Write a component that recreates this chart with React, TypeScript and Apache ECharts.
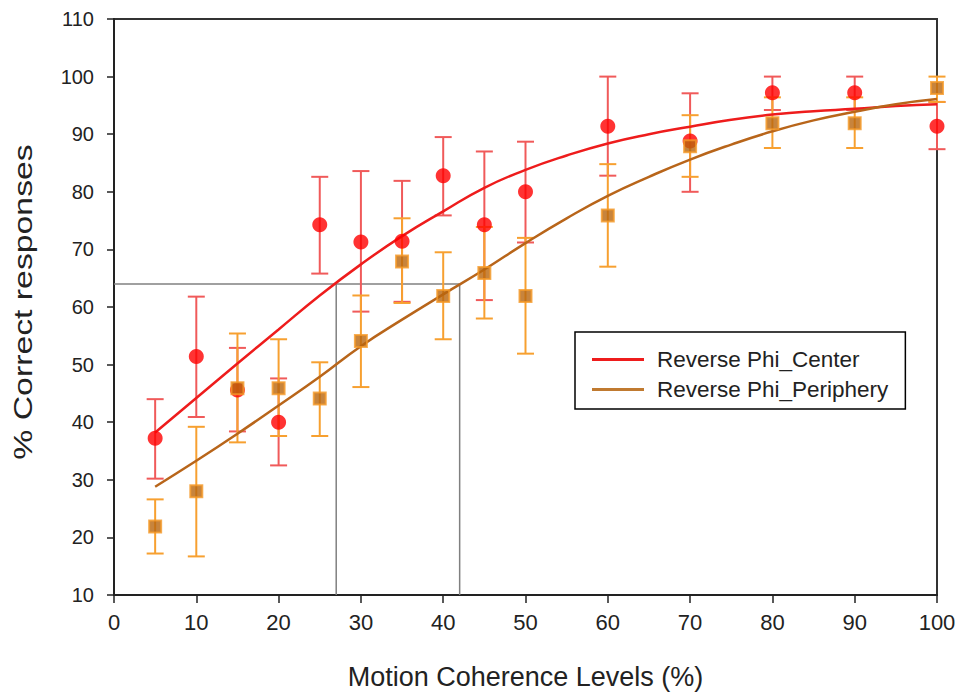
import React, { useEffect, useRef } from "react";
import * as echarts from "echarts";

// Measured points
const levels = [5, 10, 15, 20, 25, 30, 35, 40, 45, 50, 60, 70, 80, 90, 100];
const centerMean = [37.2, 51.4, 45.6, 40.0, 74.3, 71.3, 71.4, 82.8, 74.3, 80.0, 91.4, 88.8, 97.2, 97.2, 91.4];
const centerUpper = [44.0, 61.8, 52.9, 47.6, 82.6, 83.6, 81.9, 89.5, 87.0, 88.7, 100, 97.1, 100, 100, 95.6];
const centerLower = [30.2, 40.9, 38.4, 32.5, 65.8, 59.2, 60.9, 75.9, 61.2, 71.2, 82.8, 80.0, 94.2, 94.2, 87.4];
const periphMean = [21.9, 28.0, 45.9, 45.9, 44.1, 54.1, 67.9, 61.9, 65.9, 61.9, 75.9, 87.9, 91.9, 91.9, 98.0];
const periphUpper = [26.6, 39.2, 55.4, 54.4, 50.4, 62.0, 75.4, 69.5, 73.9, 72.0, 84.8, 93.3, 96.4, 96.4, 100];
const periphLower = [17.2, 16.7, 36.5, 37.6, 37.6, 46.1, 60.7, 54.4, 58.0, 51.9, 67.0, 82.6, 87.6, 87.6, 95.6];

// Fitted curves
const fitX = [5, 10, 15, 20, 25, 30, 35, 40, 45, 50, 55, 60, 65, 70, 75, 80, 85, 90, 95, 100];
const centerFit = [38.2, 44.2, 50.2, 56.1, 62.0, 67.4, 72.3, 76.6, 80.7, 83.8, 86.3, 88.4, 90.0, 91.3, 92.5, 93.4, 94.0, 94.4, 94.9, 95.2];
const periphFit = [28.8, 33.3, 38.0, 42.9, 47.9, 53.2, 57.8, 62.2, 66.5, 71.1, 75.4, 79.3, 82.6, 85.6, 88.2, 90.5, 92.4, 93.9, 95.2, 96.1];

// Threshold guide lines
const thresholdY = 64;
const thresholdCenterX = 27;
const thresholdPeriphX = 42;

const xTicks = { min: 0, max: 100, interval: 10 };
const yTicks = { min: 10, max: 110, interval: 10 };

const FONT = "Liberation Sans, Arial, sans-serif";

function errorBarSeries(name: string, lower: number[], upper: number[], color: string) {
  return {
    name,
    type: "custom",
    z: 2,
    data: levels.map((x, i) => [x, lower[i], upper[i]]),
    renderItem: (params: any, api: any) => {
      const x = api.value(0);
      const pLo = api.coord([x, api.value(1)]);
      const pHi = api.coord([x, api.value(2)]);
      const w = 8.5;
      const style = { stroke: color, lineWidth: 2 };
      return {
        type: "group",
        children: [
          { type: "line", shape: { x1: pLo[0], y1: pLo[1], x2: pHi[0], y2: pHi[1] }, style },
          { type: "line", shape: { x1: pLo[0] - w, y1: pLo[1], x2: pLo[0] + w, y2: pLo[1] }, style },
          { type: "line", shape: { x1: pHi[0] - w, y1: pHi[1], x2: pHi[0] + w, y2: pHi[1] }, style },
        ],
      };
    },
    silent: true,
  };
}

export default function App() {
  const ref = useRef<HTMLDivElement>(null);
  useEffect(() => {
    document.body.style.margin = "0";
    const chart = echarts.init(ref.current!, null, { renderer: "svg" });
    const guideStyle = { color: "#808080", width: 1.5 };
    chart.setOption({
      animation: false,
      backgroundColor: "#ffffff",
      grid: {
        left: 114,
        right: 22,
        top: 19,
        bottom: 98,
        outerBoundsMode: "none",
        containLabel: false,
        show: true,
        borderColor: "#333",
        borderWidth: 2,
      },
      graphic: [
        {
          type: "text",
          x: 23,
          y: 302,
          rotation: Math.PI / 2,
          scaleX: 1.3,
          style: {
            text: "% Correct responses",
            fontFamily: FONT,
            fontSize: 26,
            fill: "#222",
            textAlign: "center",
            textVerticalAlign: "middle",
          },
        },
      ],
      legend: {
        left: 575,
        top: 332,
        orient: "vertical",
        data: ["Reverse Phi_Center", "Reverse Phi_Periphery"],
        icon: "rect",
        itemWidth: 52,
        itemHeight: 3,
        itemGap: 7,
        borderColor: "#000",
        borderWidth: 1.5,
        borderRadius: 0,
        padding: [16, 17, 8, 17],
        textStyle: { fontFamily: FONT, fontSize: 22.5, lineHeight: 22, color: "#222", padding: [0, 0, 0, 8] },
      },
      xAxis: {
        type: "value",
        ...xTicks,
        name: "Motion Coherence Levels (%)",
        nameLocation: "middle",
        nameGap: 68,
        nameTextStyle: { fontFamily: FONT, fontSize: 27, color: "#222" },
        axisLine: { show: true, onZero: false, lineStyle: { color: "#222", width: 2 } },
        axisTick: { show: true, inside: false, length: 8, lineStyle: { color: "#222", width: 1.5 } },
        axisLabel: { fontFamily: FONT, fontSize: 22, color: "#222", margin: 16 },
        splitLine: { show: false },
      },
      yAxis: {
        type: "value",
        ...yTicks,
        axisLine: { show: true, onZero: false, lineStyle: { color: "#222", width: 2 } },
        axisTick: { show: true, inside: false, length: 7, lineStyle: { color: "#222", width: 1.5 } },
        axisLabel: { fontFamily: FONT, fontSize: 20, color: "#222", margin: 20 },
        splitLine: { show: false },
      },
      series: [
        {
          type: "line",
          z: 1,
          silent: true,
          symbol: "none",
          lineStyle: guideStyle,
          data: [[0, thresholdY], [thresholdPeriphX, thresholdY]],
        },
        {
          type: "line",
          z: 1,
          silent: true,
          symbol: "none",
          lineStyle: guideStyle,
          data: [[thresholdCenterX, yTicks.min], [thresholdCenterX, thresholdY]],
        },
        {
          type: "line",
          z: 1,
          silent: true,
          symbol: "none",
          lineStyle: guideStyle,
          data: [[thresholdPeriphX, yTicks.min], [thresholdPeriphX, thresholdY]],
        },
        errorBarSeries("centerErr", centerLower, centerUpper, "#f05a5a"),
        errorBarSeries("periphErr", periphLower, periphUpper, "#f7a030"),
        {
          name: "Reverse Phi_Center",
          type: "line",
          z: 3,
          smooth: true,
          symbol: "none",
          color: "#ee1c1c",
          lineStyle: { color: "#ee1c1c", width: 2.5 },
          data: fitX.map((x, i) => [x, centerFit[i]]),
        },
        {
          name: "Reverse Phi_Periphery",
          type: "line",
          z: 3,
          smooth: true,
          symbol: "none",
          color: "#c07a30",
          lineStyle: { color: "#b8651a", width: 2.5 },
          data: fitX.map((x, i) => [x, periphFit[i]]),
        },
        {
          name: "centerPts",
          type: "scatter",
          z: 4,
          symbol: "circle",
          symbolSize: 15,
          itemStyle: { color: "#ff0000" },
          data: levels.map((x, i) => [x, centerMean[i]]),
        },
        {
          name: "periphPts",
          type: "scatter",
          z: 5,
          symbol: "rect",
          symbolSize: 12,
          itemStyle: { color: "#b9650c", borderColor: "#f59a28", borderWidth: 2 },
          data: levels.map((x, i) => [x, periphMean[i]]),
        },
      ],
    });
    return () => chart.dispose();
  }, []);
  return <div ref={ref} style={{ width: 959, height: 693 }} />;
}
